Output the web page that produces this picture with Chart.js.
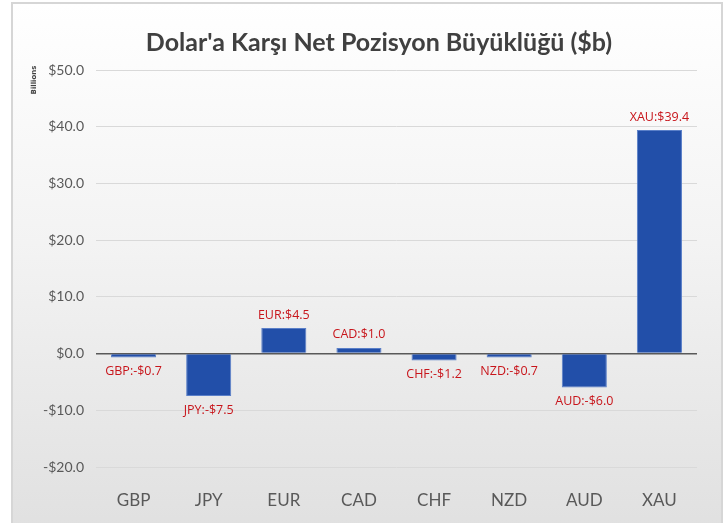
<!DOCTYPE html>
<html>
<head>
<meta charset="utf-8">
<script src="https://cdn.jsdelivr.net/npm/chart.js@4"></script>
<style>
  html, body { margin: 0; padding: 0; background: #ffffff; }
  #frame {
    position: absolute; left: 0; top: 0; width: 727px; height: 523px;
  }
  #panel {
    position: absolute; left: 11px; top: 2px; width: 708px; height: 530px;
    border: 2px solid #d6d6d6;
    background: linear-gradient(#ffffff 0%, #f3f3f3 45%, #e0e0e0 100%);
  }
  canvas { position: absolute; left: 0; top: 0; }
</style>
</head>
<body>
<div id="frame">
  <div id="panel"></div>
  <canvas id="chart" width="727" height="523"></canvas>
</div>
<script>
"use strict";
// data
var currencies = ["GBP", "JPY", "EUR", "CAD", "CHF", "NZD", "AUD", "XAU"];
var netPositions = [-0.7, -7.5, 4.5, 1.0, -1.2, -0.7, -6.0, 39.4];
var titleText = "Dolar'a Karşı Net Pozisyon Büyüklüğü ($b)";
var unitText = "Billions";

function money(v){
    return (v < 0 ? "-$" : "$") + Math.abs(v).toFixed(1);
}

var extras = {
    id: "extras",
    afterDraw: function(chart){
        var ctx = chart.ctx;
        ctx.save();
        // title
        ctx.fillStyle = "#404040";
        ctx.font = "bold 25px Lato";
        ctx.textAlign = "center";
        ctx.textBaseline = "middle";
        ctx.fillText(titleText, 379, 43);
        // unit label
        ctx.save();
        ctx.translate(34, 80);
        ctx.rotate(-Math.PI / 2);
        ctx.font = "bold 7px 'DejaVu Sans'";
        ctx.fillStyle = "#404040";
        ctx.fillText(unitText, 0, 0);
        ctx.restore();
        // data labels
        var meta = chart.getDatasetMeta(0);
        ctx.font = "12.5px 'Open Sans'";
        ctx.fillStyle = "#c8151b";
        meta.data.forEach(function(bar, i){
            var v = netPositions[i];
            var y = v >= 0 ? bar.y - 13 : bar.y + 14;
            ctx.fillText(currencies[i] + ":" + money(v), bar.x, y);
        });
        ctx.restore();
    }
};

var chart = new Chart("chart", {
    type: "bar",
    data: {
        labels: currencies,
        datasets: [{
            data: netPositions,
            backgroundColor: "#224fa9",
            borderColor: "#5a7fc8",
            borderWidth: 1,
            categoryPercentage: 1,
            barPercentage: 0.6
        }]
    },
    options: {
        responsive: false,
        animation: false,
        layout: { padding: { top: 70, right: 30, left: 0, bottom: 0 } },
        scales: {
            x: {
                grid: { display: false },
                border: { display: false },
                ticks: { color: "#595959", font: { family: "Lato", size: 17 }, padding: 15 },
                afterFit: function(scale){ scale.height = 56; }
            },
            y: {
                min: -20,
                max: 50,
                ticks: {
                    stepSize: 10,
                    color: "#595959",
                    font: { family: "Lato", size: 14 },
                    padding: 12,
                    callback: function(v){ return money(v); }
                },
                border: { display: false },
                grid: {
                    color: function(c){ return c.tick.value === 0 ? "#595959" : "#d9d9d9"; },
                    lineWidth: function(c){ return c.tick.value === 0 ? 1.5 : 1; },
                    drawTicks: false
                },
                afterFit: function(scale){ scale.width = 96; }
            }
        },
        plugins: {
            legend: { display: false },
            tooltip: { enabled: false }
        }
    },
    plugins: [extras]
});
</script>
</body>
</html>
